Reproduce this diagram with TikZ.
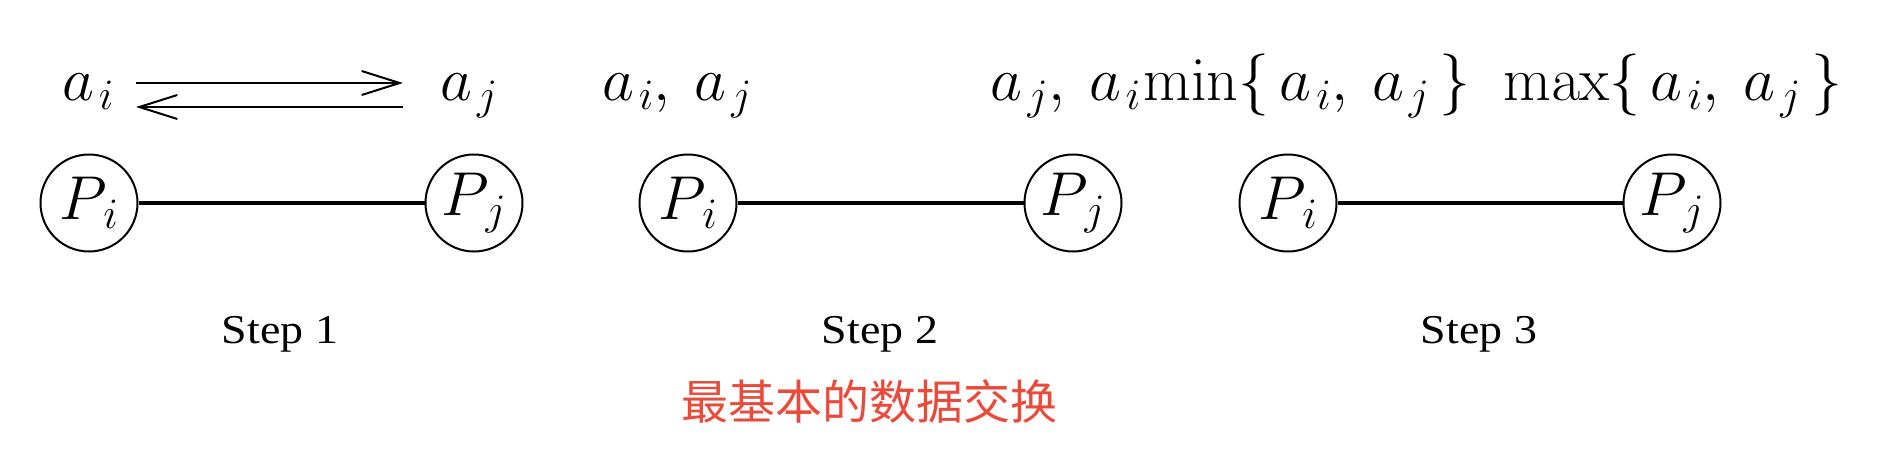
\RequirePackage{fix-cm}
\documentclass[tikz,border=0pt]{standalone}
\usepackage[no-math]{fontspec}
\newfontfamily\stepfont{Liberation Serif}
\newfontfamily\cjk{Noto Sans CJK SC}
\usetikzlibrary{arrows.meta}
\definecolor{capred}{RGB}{234,74,58}
\newcommand{\vai}{a_{\mkern2mu i}}
\newcommand{\vaj}{a_{\mkern2mu j}}
\newcommand{\vsep}{,\mkern4mu}
\begin{document}
\begin{tikzpicture}[x=1pt,y=-1pt,
  proc/.style={circle,draw,line width=2pt,minimum size=97pt,inner sep=0pt,font=\fontsize{62}{70}\selectfont},
  link/.style={line width=4pt},
  msg/.style={line width=2pt,-{Straight Barb[length=38pt,width=24pt,line width=2pt]}},
  val/.style={anchor=base,inner sep=0pt,font=\fontsize{62}{70}\selectfont},
  vall/.style={anchor=base west,inner sep=0pt,font=\fontsize{62}{70}\selectfont},
  valr/.style={anchor=base east,inner sep=0pt,font=\fontsize{62}{70}\selectfont},
  steplab/.style={anchor=base,inner sep=0pt,font=\stepfont\fontsize{41}{50}\selectfont},
  caption/.style={inner sep=0pt,text=capred,font=\cjk\fontsize{47}{54}\selectfont}]
\useasboundingbox (0,0) rectangle (1898,458);
% Step 1
\node[proc] (p1i) at (89,203) {$P_{\mkern2mu i}$};
\node[proc] (p1j) at (474,203) {$P_{\mkern2mu j}$};
\draw[link] (p1i) -- (p1j);
\node[val] (v1i) at (88,100) {$\vai$};
\node[val] (v1j) at (469,100) {$\vaj$};
\coordinate (t1s) at (136,83);
\coordinate (t1e) at (403,83);
\coordinate (b1s) at (403,107);
\coordinate (b1e) at (136,107);
\draw[msg] (t1s) -- (t1e);
\draw[msg] (b1s) -- (b1e);
\node[steplab] (s1) at (280,343) {\scalebox{1.12}[1]{Step 1}};
% Step 2
\node[proc] (p2i) at (688,203) {$P_{\mkern2mu i}$};
\node[proc] (p2j) at (1073,203) {$P_{\mkern2mu j}$};
\draw[link] (p2i) -- (p2j);
\node[val] (v2i) at (677,100) {$\vai\vsep\vaj$};
\node[valr] (v2j) at (1141,100) {$\vaj\vsep\vai$};
\node[steplab] (s2) at (880,343) {\scalebox{1.12}[1]{Step 2}};
% Step 3
\node[proc] (p3i) at (1288,203) {$P_{\mkern2mu i}$};
\node[proc] (p3j) at (1672,203) {$P_{\mkern2mu j}$};
\draw[link] (p3i) -- (p3j);
\node[vall] (v3i) at (1143,100) {$\mathrm{min}\{\mkern3mu\vai\vsep\vaj\mkern3mu\}$};
\node[vall] (v3j) at (1503,100) {$\mathrm{max}\{\mkern3mu\vai\vsep\vaj\mkern3mu\}$};
\node[steplab] (s3) at (1479,343) {\scalebox{1.12}[1]{Step 3}};
% caption
\node[caption] (cap) at (869,401) {最基本的数据交换};
\end{tikzpicture}
\end{document}
